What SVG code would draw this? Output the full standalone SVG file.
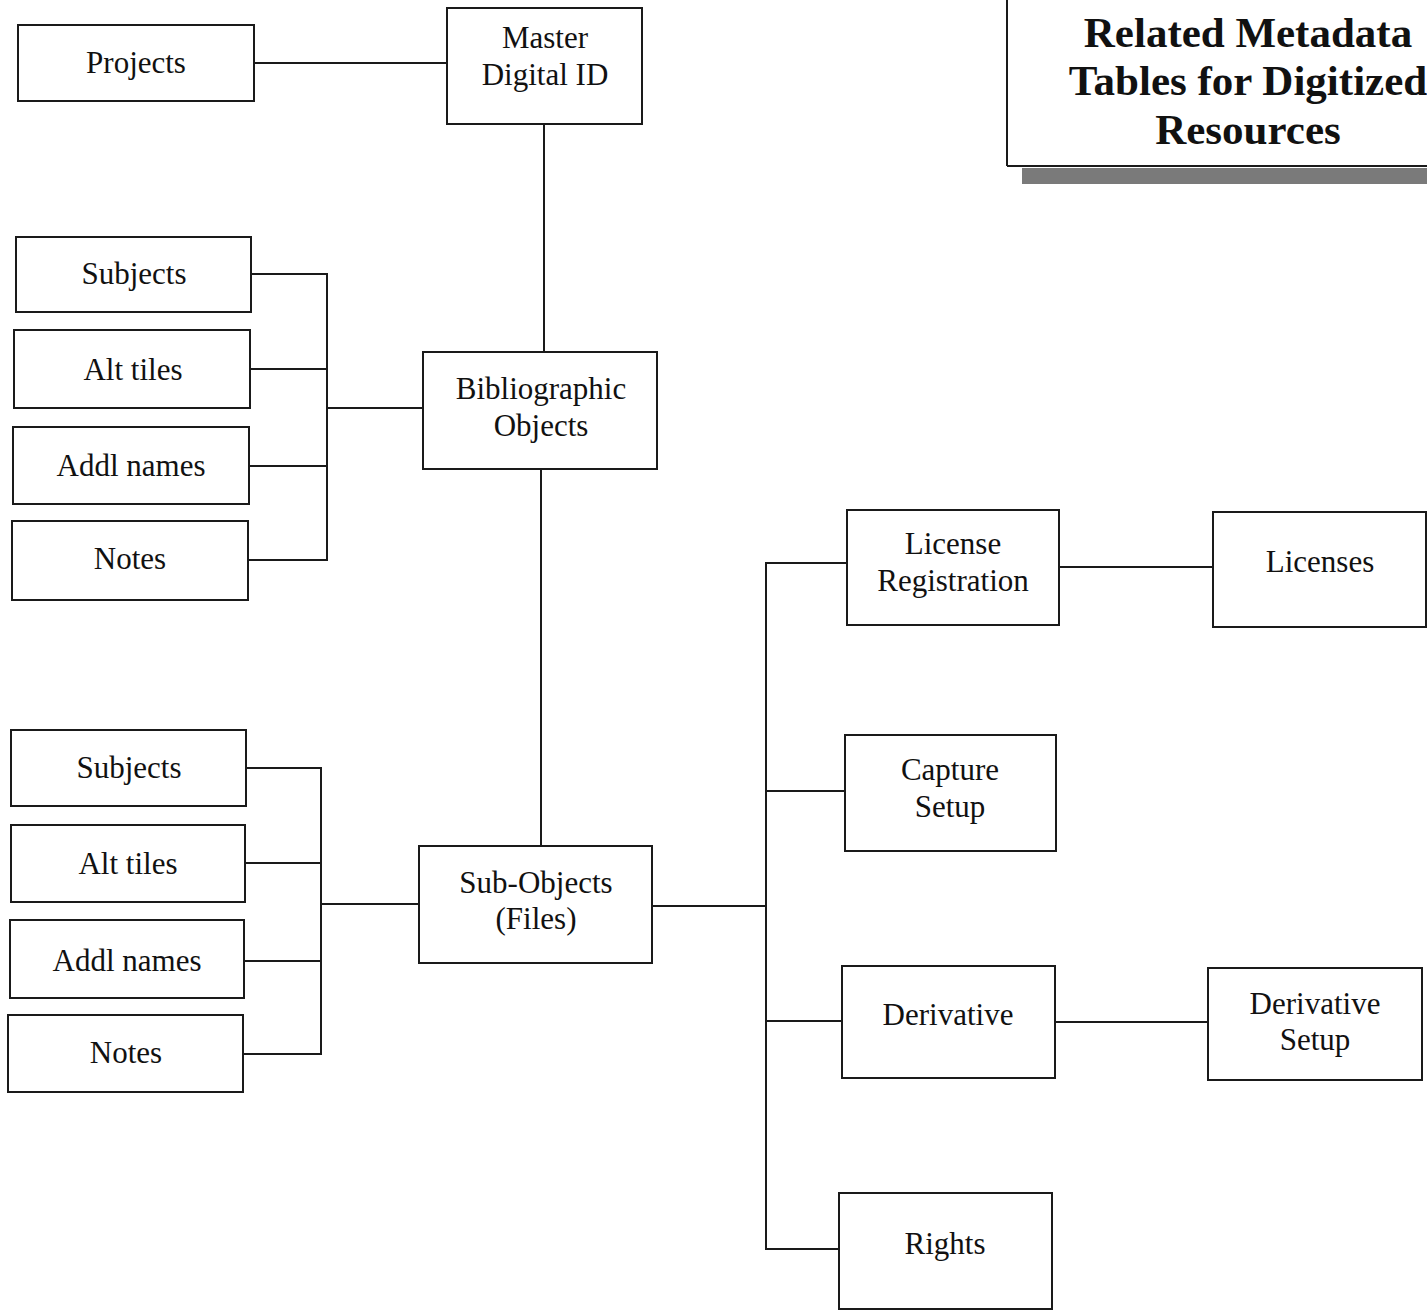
<svg xmlns="http://www.w3.org/2000/svg" width="1427" height="1311" viewBox="0 0 1427 1311">
<style>
.box{fill:#fff;stroke:#1a1a1a;stroke-width:2}
.t{font-family:"Liberation Serif","Times New Roman",serif;font-size:31px;fill:#111;text-anchor:middle}
.title{font-family:"Liberation Serif","Times New Roman",serif;font-size:43px;font-weight:bold;fill:#111;text-anchor:middle}
.c{fill:none;stroke:#1a1a1a;stroke-width:2}
</style>
<rect width="1427" height="1311" fill="#fff"/>
<g id="title">
<line x1="1007" y1="0" x2="1007" y2="166" class="c"/>
<line x1="1007" y1="166" x2="1427" y2="166" class="c"/>
<rect x="1022" y="168" width="405" height="16" fill="#7a7a7a"/>
<text class="title" x="1248" y="47">Related Metadata</text>
<text class="title" x="1248" y="95">Tables for Digitized</text>
<text class="title" x="1248" y="144">Resources</text>
</g>
<g id="connectors">
<path class="c" d="M254 63H447"/>
<path class="c" d="M544 124V352"/>
<path class="c" d="M251 274H327V560H248M250 369H327M249 466H327M327 408H423"/>
<path class="c" d="M541 469V846"/>
<path class="c" d="M246 768H321V1054H243M245 863H321M244 961H321M321 904H419"/>
<path class="c" d="M652 906H766M847 563H766V1249H839M766 791H845M766 1021H842"/>
<path class="c" d="M1059 567H1213"/>
<path class="c" d="M1055 1022H1208"/>
</g>
<g id="projects"><rect class="box" x="18" y="25" width="236" height="76"/><text class="t" x="136" y="73">Projects</text></g>
<g id="master"><rect class="box" x="447" y="8" width="195" height="116"/><text class="t" x="545" y="48">Master</text><text class="t" x="545" y="85">Digital ID</text></g>
<g id="bib-subjects"><rect class="box" x="16" y="237" width="235" height="75"/><text class="t" x="134" y="284">Subjects</text></g>
<g id="bib-alt"><rect class="box" x="14" y="330" width="236" height="78"/><text class="t" x="133" y="380">Alt tiles</text></g>
<g id="bib-addl"><rect class="box" x="13" y="427" width="236" height="77"/><text class="t" x="131" y="476">Addl names</text></g>
<g id="bib-notes"><rect class="box" x="12" y="521" width="236" height="79"/><text class="t" x="130" y="569">Notes</text></g>
<g id="bib"><rect class="box" x="423" y="352" width="234" height="117"/><text class="t" x="541" y="399">Bibliographic</text><text class="t" x="541" y="436">Objects</text></g>
<g id="sub-subjects"><rect class="box" x="11" y="730" width="235" height="76"/><text class="t" x="129" y="778">Subjects</text></g>
<g id="sub-alt"><rect class="box" x="11" y="825" width="234" height="77"/><text class="t" x="128" y="874">Alt tiles</text></g>
<g id="sub-addl"><rect class="box" x="10" y="920" width="234" height="78"/><text class="t" x="127" y="971">Addl names</text></g>
<g id="sub-notes"><rect class="box" x="8" y="1015" width="235" height="77"/><text class="t" x="126" y="1063">Notes</text></g>
<g id="subobjects"><rect class="box" x="419" y="846" width="233" height="117"/><text class="t" x="536" y="893">Sub-Objects</text><text class="t" x="536" y="929">(Files)</text></g>
<g id="licreg"><rect class="box" x="847" y="510" width="212" height="115"/><text class="t" x="953" y="554">License</text><text class="t" x="953" y="591">Registration</text></g>
<g id="licenses"><rect class="box" x="1213" y="512" width="213" height="115"/><text class="t" x="1320" y="572">Licenses</text></g>
<g id="capture"><rect class="box" x="845" y="735" width="211" height="116"/><text class="t" x="950" y="780">Capture</text><text class="t" x="950" y="817">Setup</text></g>
<g id="derivative"><rect class="box" x="842" y="966" width="213" height="112"/><text class="t" x="948" y="1025">Derivative</text></g>
<g id="derivsetup"><rect class="box" x="1208" y="968" width="214" height="112"/><text class="t" x="1315" y="1014">Derivative</text><text class="t" x="1315" y="1050">Setup</text></g>
<g id="rights"><rect class="box" x="839" y="1193" width="213" height="116"/><text class="t" x="945" y="1254">Rights</text></g>
</svg>
